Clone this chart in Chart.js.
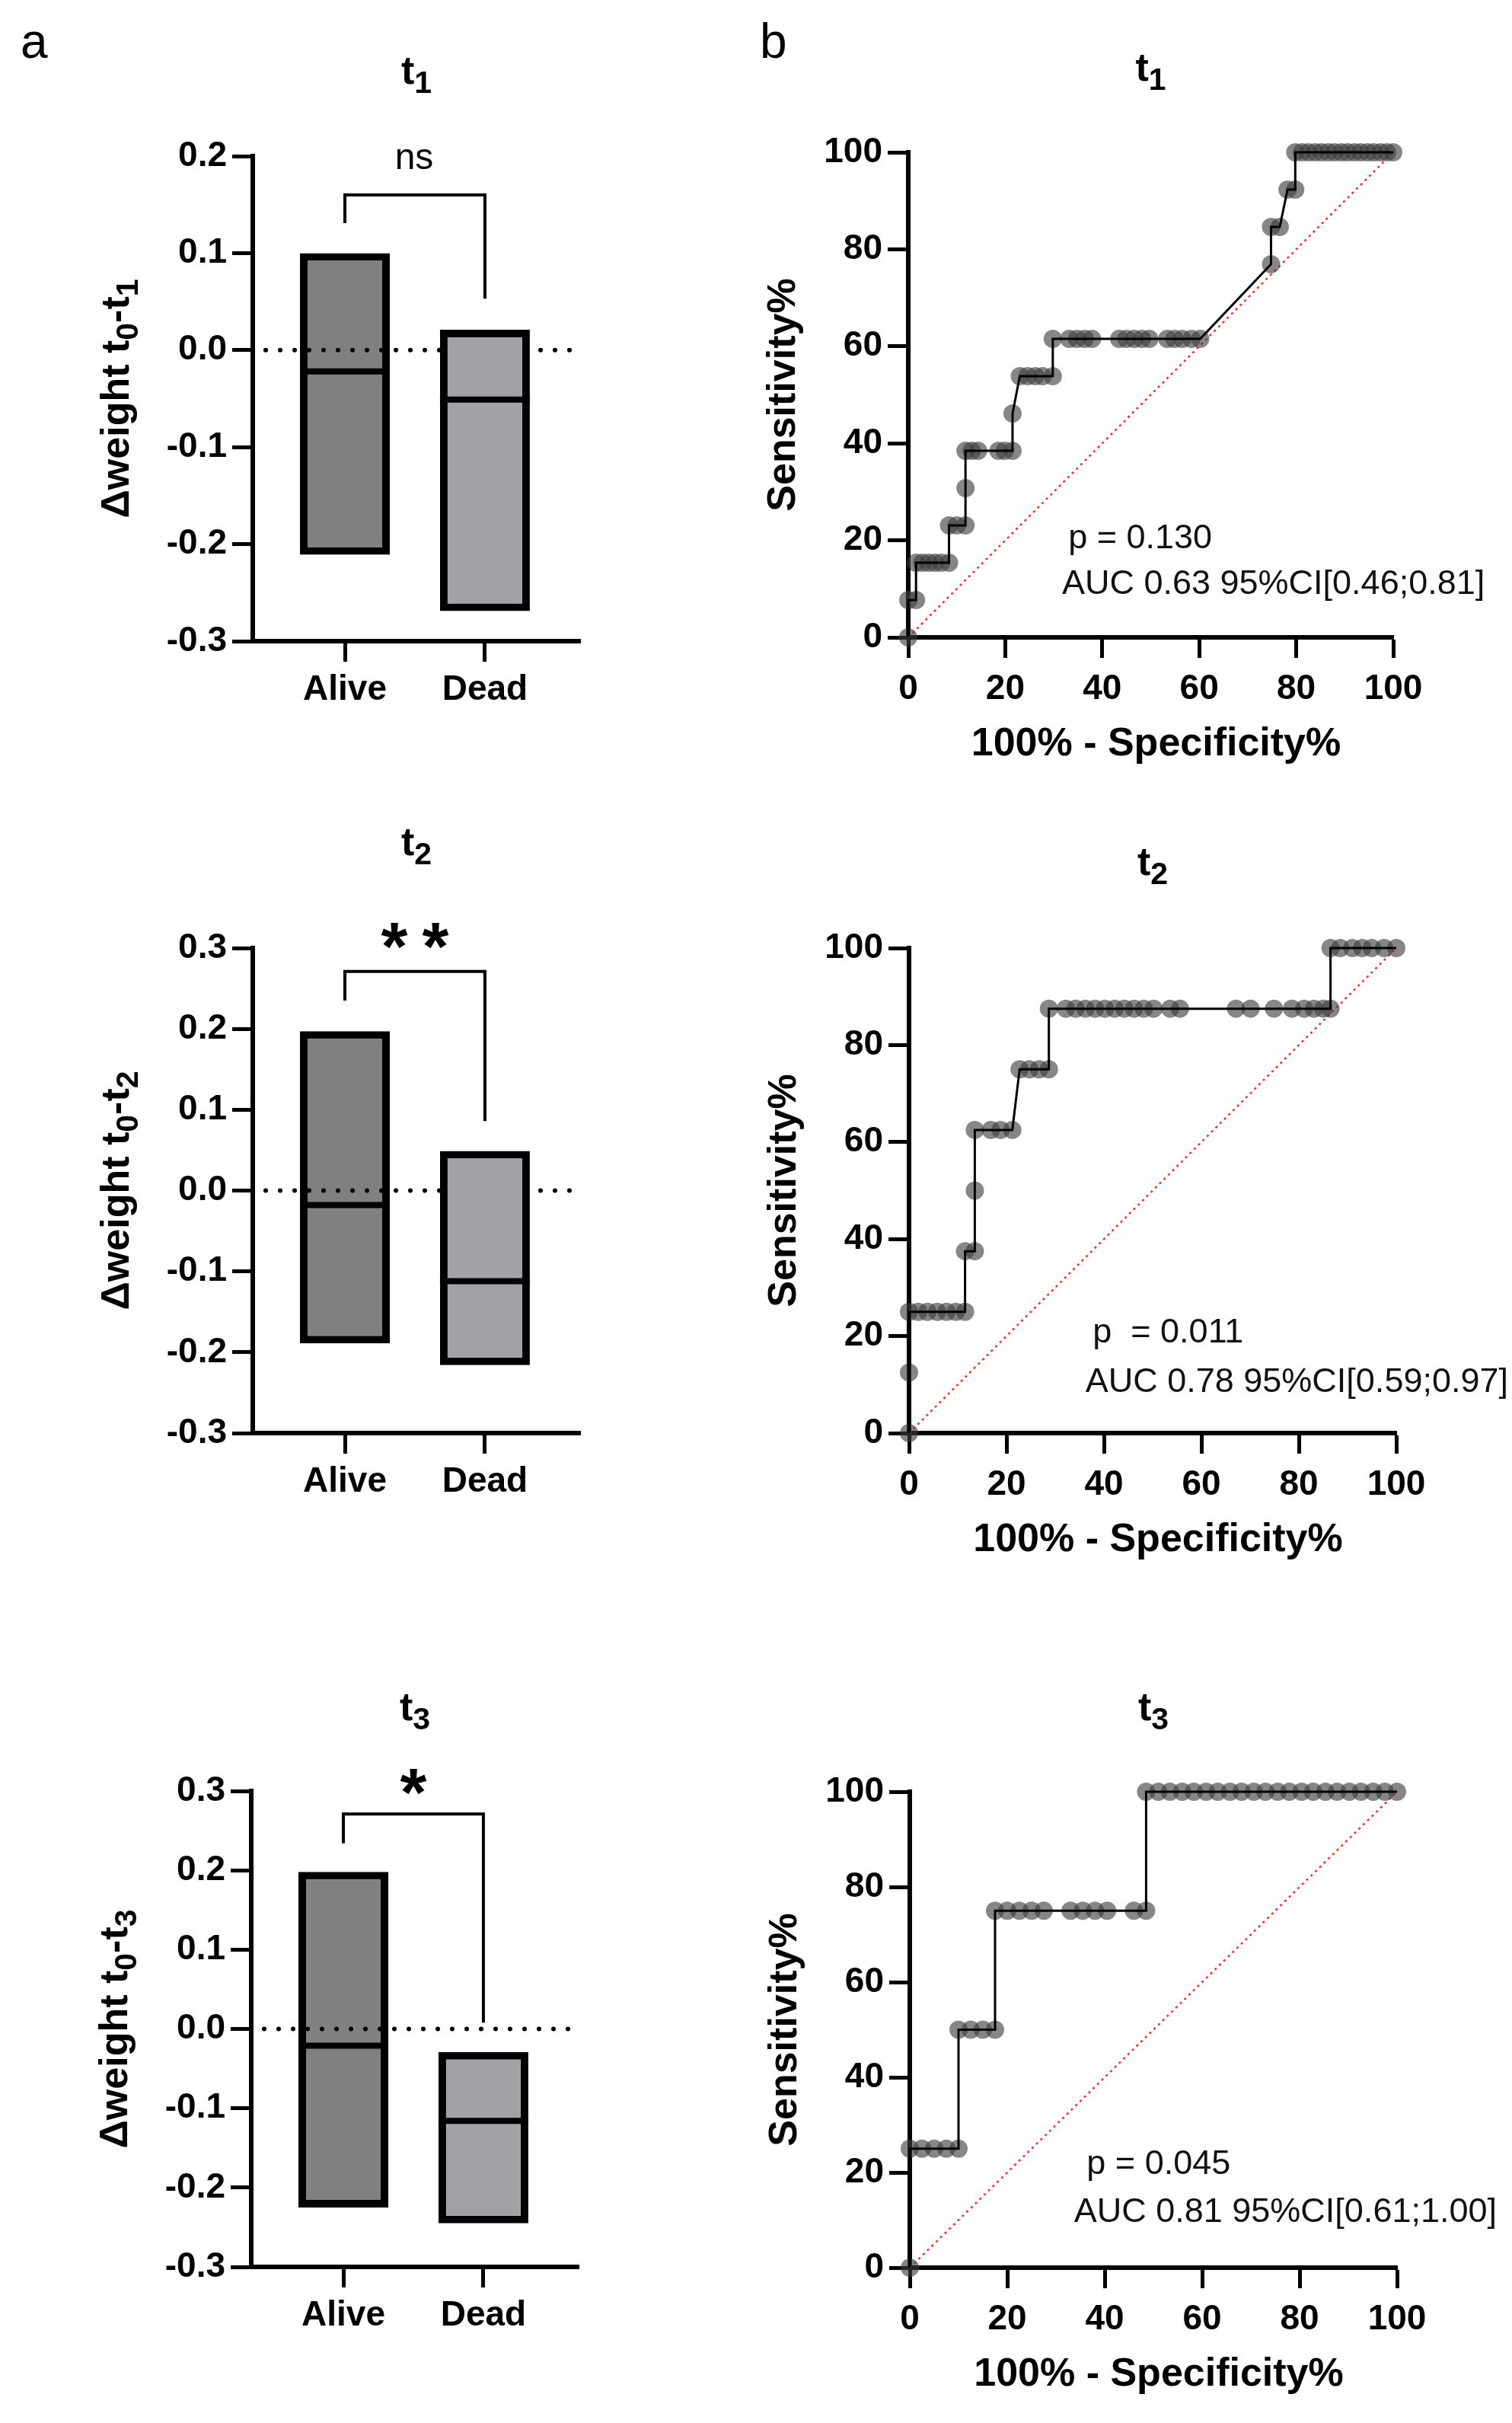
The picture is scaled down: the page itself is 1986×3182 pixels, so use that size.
<!DOCTYPE html>
<html>
<head>
<meta charset="utf-8">
<script src="https://cdn.jsdelivr.net/npm/chart.js@4.4.1/dist/chart.umd.min.js"></script>
<style>
  body { margin: 0; background: #fff; width: 1986px; height: 3182px; position: relative; overflow: hidden;
         font-family: "Liberation Sans", Arial, sans-serif; }
  .tag { position: absolute; font-size: 64px; line-height: 1; color: #000; }
</style>
</head>
<body>
<div class="tag" style="left:27px;top:22px">a</div>
<div class="tag" style="left:998px;top:22px">b</div>
<script>
const FONT = '"Liberation Sans", Arial, sans-serif';

// ---- panel a: weight change per group (min..max bar, median line) ----
const groups = ["Alive", "Dead"];
const timepoints = ["1", "2", "3"];
const aliveMin = [-0.211, -0.189, -0.225];
const aliveMax = [0.100, 0.197, 0.198];
const aliveMedian = [-0.022, -0.018, -0.021];
const deadMin = [-0.269, -0.216, -0.245];
const deadMax = [0.021, 0.049, -0.029];
const deadMedian = [-0.051, -0.112, -0.116];
// comparison bracket (foot over Alive, top, foot over Dead) and its label
const bracketAlive = [0.131, 0.235, 0.234];
const bracketTop = [0.160, 0.271, 0.271];
const bracketDead = [0.053, 0.086, 0.008];
const sigLabel = ["ns", "**", "*"];
const sigY = [0.197, 0.315, 0.312];
const boxYMin = [-0.3, -0.3, -0.3];
const boxYMax = [0.2, 0.3, 0.3];

// ---- panel b: ROC curves (100% - specificity, sensitivity) ----
const rocX1 = [0, 0, 1.6, 1.6, 2.9, 4.2, 5.5, 6.8, 8.4, 8.4, 10.0, 11.8, 11.8, 11.8, 13.1, 14.4, 18.6, 19.9, 21.5,
  21.5, 23.0, 24.6, 26.2, 27.7, 29.8, 29.8, 33.2, 34.8, 36.4, 37.9, 43.5, 45.0, 46.6, 48.2, 49.7, 53.4, 54.9, 56.5,
  58.4, 60.2, 74.8, 74.8, 76.6, 78.2, 79.8, 79.8, 81.2, 82.5, 83.9, 85.2, 86.6, 87.9, 89.3, 90.6, 92.0, 93.3, 94.7,
  96.0, 97.4, 98.7, 100];
const rocY1 = [0, 7.69, 7.69, 15.38, 15.38, 15.38, 15.38, 15.38, 15.38, 23.08, 23.08, 23.08, 30.77, 38.46, 38.46,
  38.46, 38.46, 38.46, 38.46, 46.15, 53.85, 53.85, 53.85, 53.85, 53.85, 61.54, 61.54, 61.54, 61.54, 61.54, 61.54,
  61.54, 61.54, 61.54, 61.54, 61.54, 61.54, 61.54, 61.54, 61.54, 76.92, 84.62, 84.62, 92.31, 92.31, 100, 100, 100,
  100, 100, 100, 100, 100, 100, 100, 100, 100, 100, 100, 100, 100];
const rocX2 = [0, 0, 0, 1.9, 3.8, 5.8, 7.7, 9.6, 11.5, 11.5, 13.5, 13.5, 13.5, 16.8, 18.8, 21.2, 22.7, 24.7, 26.7,
  28.7, 28.7, 32.2, 34.2, 36.2, 38.2, 40.2, 42.2, 44.2, 46.2, 48.2, 50.2, 53.6, 55.6, 67.1, 70.1, 74.9, 78.6, 81.1,
  83.1, 85.0, 86.5, 86.5, 88.5, 91.0, 93.0, 95.0, 97.5, 100];
const rocY2 = [0, 12.5, 25, 25, 25, 25, 25, 25, 25, 37.5, 37.5, 50, 62.5, 62.5, 62.5, 62.5, 75, 75, 75, 75, 87.5,
  87.5, 87.5, 87.5, 87.5, 87.5, 87.5, 87.5, 87.5, 87.5, 87.5, 87.5, 87.5, 87.5, 87.5, 87.5, 87.5, 87.5, 87.5, 87.5,
  87.5, 100, 100, 100, 100, 100, 100, 100];
const rocX3 = [0, 0, 2.5, 5.0, 7.5, 10.0, 10.0, 12.5, 15.0, 17.5, 17.5, 20.0, 22.5, 25.0, 27.5, 33.0, 35.5, 38.0,
  40.5, 46.0, 48.5, 48.5, 51.0, 53.4, 55.9, 58.3, 60.8, 63.2, 65.7, 68.1, 70.6, 73.0, 75.5, 77.9, 80.4, 82.8, 85.3,
  87.7, 90.2, 92.6, 95.1, 97.5, 100];
const rocY3 = [0, 25, 25, 25, 25, 25, 50, 50, 50, 50, 75, 75, 75, 75, 75, 75, 75, 75, 75, 75, 75, 100, 100, 100,
  100, 100, 100, 100, 100, 100, 100, 100, 100, 100, 100, 100, 100, 100, 100, 100, 100, 100, 100];
const rocX = [rocX1, rocX2, rocX3];
const rocY = [rocY1, rocY2, rocY3];
const chanceX = [0, 100];
const chanceY = [0, 100];
const pText = ["p = 0.130", "p  = 0.011", "p = 0.045"];
const aucText = ["AUC 0.63 95%CI[0.46;0.81]", "AUC 0.78 95%CI[0.59;0.97]", "AUC 0.81 95%CI[0.61;1.00]"];

// ---- layout (pixels in the page, area = chart area left/top/right/bottom inside the panel) ----
const boxLayout = [
  { top: 0, height: 1040, area: [332, 205, 762, 842], titleGap: 95 },
  { top: 1040, height: 1120, area: [332, 205, 762, 842], titleGap: 122 },
  { top: 2160, height: 1022, area: [330, 192, 760, 817], titleGap: 93 }
];
const rocLayout = [
  { top: 0, height: 1040, area: [200, 200, 837, 837], titleGap: 94, p: [33.0, 18.4], auc: [31.7, 8.9] },
  { top: 1040, height: 1120, area: [201, 205, 841, 842], titleGap: 96, p: [37.7, 18.7], auc: [36.2, 8.5] },
  { top: 2160, height: 1022, area: [202, 193, 842, 818], titleGap: 94, p: [36.3, 19.7], auc: [33.7, 9.6] }
];
const Y_AXIS_W = 200, X_AXIS_H = 150;

Chart.defaults.font.family = FONT;
Chart.defaults.color = '#000';

function drawRich(ctx, parts, x, y, size) {
  // parts: [text, isSubscript]; centred on x, baseline y
  const subSize = Math.round(size * 0.78);
  let total = 0;
  const widths = parts.map(([t, sub]) => {
    ctx.font = `bold ${sub ? subSize : size}px ${FONT}`;
    const w = ctx.measureText(t).width;
    total += w;
    return w;
  });
  let cx = x - total / 2;
  ctx.textAlign = 'left';
  ctx.textBaseline = 'alphabetic';
  parts.forEach(([t, sub], i) => {
    ctx.font = `bold ${sub ? subSize : size}px ${FONT}`;
    ctx.fillText(t, cx, sub ? y + Math.round(size * 0.23) : y);
    cx += widths[i];
  });
}

const panelText = {
  id: 'panelText',
  afterDatasetDraw(chart, args, o) {
    // dotted zero line goes over the Alive bar, under the Dead bar
    if (o.zeroAfter !== args.index) return;
    const { ctx, chartArea: a, scales: { y } } = chart;
    const py = y.getPixelForValue(0);
    ctx.save();
    ctx.strokeStyle = '#000';
    ctx.lineWidth = 6;
    ctx.lineCap = 'round';
    ctx.setLineDash([0, 19]);
    ctx.beginPath();
    ctx.moveTo(a.left + 17, py);
    ctx.lineTo(a.right, py);
    ctx.stroke();
    ctx.restore();
  },
  afterDatasetsDraw(chart, args, o) {
    if (!o.medians) return;
    const { ctx, scales: { y } } = chart;
    o.medians.forEach(m => {
      const bar = chart.getDatasetMeta(m.dataset).data[0];
      const { x, width } = bar.getProps(['x', 'width'], true);
      const py = y.getPixelForValue(m.value);
      ctx.save();
      ctx.strokeStyle = '#000';
      ctx.lineWidth = 8;
      ctx.beginPath();
      ctx.moveTo(x - width / 2, py);
      ctx.lineTo(x + width / 2, py);
      ctx.stroke();
      ctx.restore();
    });
  },
  afterDraw(chart, args, o) {
    const { ctx, chartArea: a, scales: { x, y } } = chart;
    const cx = (a.left + a.right) / 2, cy = (a.top + a.bottom) / 2;
    ctx.save();
    ctx.fillStyle = '#000';
    drawRich(ctx, o.title, cx, a.top - o.titleGap, 52);

    ctx.save();
    ctx.translate(a.left - o.yTitleGap, cy);
    ctx.rotate(-Math.PI / 2);
    drawRich(ctx, o.yTitle, 0, 0, 52);
    ctx.restore();

    if (o.xTitle) drawRich(ctx, o.xTitle, cx + 7, a.bottom + 155, 52);

    (o.notes || []).forEach(n => {
      ctx.font = `45px ${FONT}`;
      ctx.fillStyle = '#111';
      ctx.textAlign = 'left';
      ctx.textBaseline = 'alphabetic';
      ctx.fillText(n.text, x.getPixelForValue(n.x), y.getPixelForValue(n.y));
    });

    if (o.sig) {
      const sx = x.getPixelForValue(1.5), sy = y.getPixelForValue(o.sig.y);
      const stars = o.sig.text !== 'ns';
      const chars = stars ? o.sig.text.split('') : [o.sig.text];
      ctx.fillStyle = '#000';
      ctx.textAlign = 'left';
      ctx.textBaseline = 'alphabetic';
      if (stars) {
        ctx.font = `bold 100px ${FONT}`;
        const m0 = ctx.measureText('*');
        const size = 100 * 35 / (m0.actualBoundingBoxRight + m0.actualBoundingBoxLeft);
        ctx.font = `bold ${size}px ${FONT}`;
      } else {
        ctx.font = `48px ${FONT}`;
      }
      chars.forEach((c, i) => {
        const m = ctx.measureText(c);
        const ccx = sx + (i - (chars.length - 1) / 2) * 54;
        ctx.fillText(c, ccx - (m.actualBoundingBoxRight - m.actualBoundingBoxLeft) / 2,
          sy + (m.actualBoundingBoxAscent - m.actualBoundingBoxDescent) / 2);
      });
    }
    ctx.restore();
  }
};
Chart.register(panelText);

function makeCanvas(x, y, w, h) {
  const c = document.createElement('canvas');
  c.width = w;
  c.height = h;
  c.style.cssText = `position:absolute;left:${x}px;top:${y}px;width:${w}px;height:${h}px`;
  document.body.appendChild(c);
  return c;
}

const tickGrid = { display: true, drawOnChartArea: false, drawTicks: true, tickLength: 27, tickWidth: 5, tickColor: '#000', offset: false };
const axisBorder = { display: true, color: '#000', width: 6 };
const tickFont = { size: 46, weight: 'bold' };

function padFor(L, panelW) {
  const [left, top, right, bottom] = L.area;
  return { left: left - Y_AXIS_W, top: top, right: panelW - right, bottom: L.height - bottom - X_AXIS_H };
}

function boxChart(k) {
  const L = boxLayout[k];
  const canvas = makeCanvas(0, L.top, 993, L.height);
  const tp = timepoints[k];
  return new Chart(canvas, {
    type: 'bar',
    data: {
      datasets: [
        {
          type: 'line', label: 'bracket',
          data: [
            { x: 1, y: bracketAlive[k] }, { x: 1, y: bracketTop[k] },
            { x: 2, y: bracketTop[k] }, { x: 2, y: bracketDead[k] }
          ],
          borderColor: '#000', borderWidth: 4, pointRadius: 0, tension: 0, order: 0, clip: false
        },
        {
          label: groups[1], data: [{ x: 2, y: [deadMin[k], deadMax[k]] }],
          backgroundColor: '#a2a1a6', order: 1
        },
        {
          label: groups[0], data: [{ x: 1, y: [aliveMin[k], aliveMax[k]] }],
          backgroundColor: '#808080', order: 2
        }
      ]
    },
    options: {
      responsive: false, animation: false, events: [],
      layout: { padding: padFor(L, 993) },
      datasets: { bar: { grouped: false, maxBarThickness: 118, borderWidth: 10, borderColor: '#000', borderSkipped: false } },
      plugins: {
        legend: { display: false }, tooltip: { enabled: false },
        panelText: {
          zeroAfter: 2,
          medians: [{ dataset: 2, value: aliveMedian[k] }, { dataset: 1, value: deadMedian[k] }],
          title: [['t', false], [tp, true]],
          titleGap: L.titleGap,
          yTitle: [['\u0394weight t', false], ['0', true], ['-t', false], [tp, true]],
          yTitleGap: 163,
          sig: { text: sigLabel[k], y: sigY[k] }
        }
      },
      scales: {
        x: {
          type: 'linear', min: 0.342, max: 2.68, offset: false,
          afterBuildTicks: s => { s.ticks = groups.map((g, i) => ({ value: i + 1 })); },
          ticks: { callback: v => groups[v - 1], font: tickFont, padding: 10, maxRotation: 0, autoSkip: false },
          grid: tickGrid, border: axisBorder,
          afterFit: s => { s.height = X_AXIS_H; }
        },
        y: {
          min: boxYMin[k], max: boxYMax[k],
          ticks: { stepSize: 0.1, font: tickFont, padding: 7,
                   callback: v => (Math.abs(v) < 1e-9 ? 0 : v).toFixed(1) },
          grid: tickGrid, border: axisBorder,
          afterFit: s => { s.width = Y_AXIS_W; }
        }
      }
    }
  });
}

function rocChart(k) {
  const L = rocLayout[k];
  const canvas = makeCanvas(993, L.top, 993, L.height);
  const curve = rocX[k].map((v, i) => ({ x: v, y: rocY[k][i] }));
  const chance = chanceX.map((v, i) => ({ x: v, y: chanceY[i] }));
  return new Chart(canvas, {
    type: 'line',
    data: {
      datasets: [
        { label: 'curve', data: curve, borderColor: '#000', borderWidth: 3, pointRadius: 0, tension: 0, order: 0, clip: false },
        { label: 'points', data: curve, showLine: false, pointRadius: 12, pointBorderWidth: 0,
          pointBackgroundColor: 'rgba(60,60,60,0.62)', order: 1, clip: false },
        { label: 'chance', data: chance, borderColor: '#ff2a2a', borderWidth: 2.5, borderDash: [3, 5],
          pointRadius: 0, order: 2, clip: false }
      ]
    },
    options: {
      responsive: false, animation: false, events: [],
      layout: { padding: padFor(L, 993) },
      plugins: {
        legend: { display: false }, tooltip: { enabled: false },
        panelText: {
          title: [['t', false], [timepoints[k], true]],
          titleGap: L.titleGap,
          yTitle: [['Sensitivity%', false]],
          yTitleGap: 149,
          xTitle: [['100% - Specificity%', false]],
          notes: [
            { text: pText[k], x: L.p[0], y: L.p[1] },
            { text: aucText[k], x: L.auc[0], y: L.auc[1] }
          ]
        }
      },
      scales: {
        x: {
          type: 'linear', min: 0, max: 100,
          ticks: { stepSize: 20, font: tickFont, padding: 14, maxRotation: 0 },
          grid: tickGrid, border: axisBorder,
          afterFit: s => { s.height = X_AXIS_H; }
        },
        y: {
          type: 'linear', min: 0, max: 100,
          ticks: { stepSize: 20, font: tickFont, padding: 7 },
          grid: tickGrid, border: axisBorder,
          afterFit: s => { s.width = Y_AXIS_W; }
        }
      }
    }
  });
}

timepoints.forEach((t, k) => { boxChart(k); rocChart(k); });
</script>
</body>
</html>
